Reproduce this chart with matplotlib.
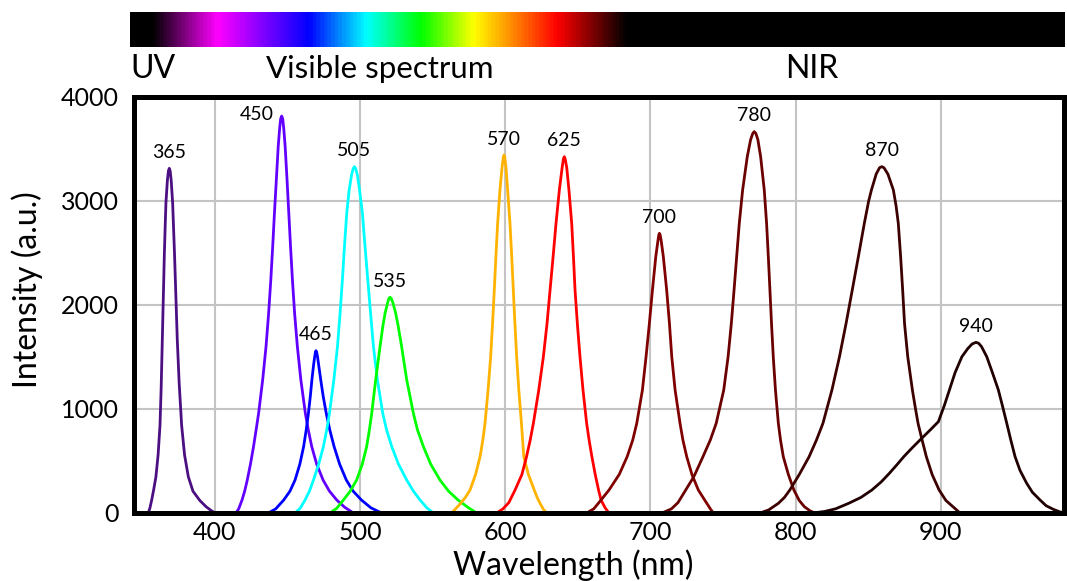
import matplotlib.pyplot as plt
import numpy as np
from matplotlib.colors import LinearSegmentedColormap

plt.rcParams['font.family'] = ['Lato', 'DejaVu Sans']

# LED spectra (wavelength in nm, intensity in a.u.)
x365 = [354.2, 355.3, 356.5, 357.9, 359.5, 361.0, 362.3, 363.1, 363.9, 364.6, 365.3, 365.9, 366.4, 367.4, 368.1, 368.7,
        369.3, 370.0, 371.0, 372.3, 373.2, 374.2, 375.5, 377.2, 379.2, 381.8, 385.0, 389.8, 394.0, 397.4, 400.2]
y365 = [0, 45, 119, 220, 349, 560, 843, 1200, 1667, 2080, 2490, 2770, 2984, 3200, 3290, 3314,
        3290, 3200, 2984, 2490, 2100, 1667, 1250, 843, 560, 349, 210, 119, 61, 25, 0]

x450 = [414.6, 416.5, 418.8, 420.6, 422.4, 424.6, 426.7, 428.5, 430.2, 433.0, 435.3, 437.1, 438.6, 439.9, 441.1, 442.4,
        443.7, 444.7, 445.4, 446.1, 446.8, 447.5, 448.5, 449.8, 451.0, 452.2, 453.5, 455.0, 456.9, 459.3, 462.4,
        464.4, 466.8, 470.2, 474.6, 479.0, 484.0, 489.5, 495.5]
y450 = [0, 40, 125, 210, 317, 470, 638, 800, 958, 1280, 1599, 1920, 2240, 2560, 2881, 3200,
        3522, 3700, 3790, 3817, 3790, 3700, 3522, 3200, 2881, 2560, 2240, 1920, 1599, 1280, 958,
        800, 638, 470, 317, 210, 125, 55, 0]

x465 = [436.9, 442.0, 447.5, 451.8, 455.3, 458.6, 461.2, 463.0, 464.5, 465.8, 466.9, 467.7, 468.2, 468.8, 469.3, 469.7,
        470.2, 470.8, 471.4, 472.0, 473.0, 474.7, 476.8, 479.2, 482.2, 486.0, 490.6, 495.3, 501.0, 507.5, 514.9]
y465 = [0, 40, 125, 210, 317, 470, 638, 800, 958, 1120, 1279, 1380, 1439, 1500, 1545, 1561,
        1545, 1500, 1439, 1380, 1279, 1120, 958, 800, 638, 470, 317, 210, 125, 50, 0]

x505 = [455.3, 458.8, 462.2, 465.2, 468.0, 471.6, 474.8, 477.1, 479.0, 482.0, 484.5, 486.3, 487.9, 489.3, 490.9, 492.5,
        494.2, 495.3, 496.2, 497.1, 498.2, 499.5, 501.7, 503.5, 505.4, 507.3, 509.3, 512.0, 515.7, 518.3, 521.9,
        526.5, 532.2, 536.8, 541.4, 546.0, 550.6]
y505 = [0, 45, 125, 210, 317, 470, 638, 800, 958, 1280, 1599, 1920, 2240, 2560, 2881, 3100,
        3250, 3310, 3330, 3310, 3250, 3130, 2881, 2560, 2240, 1920, 1599, 1280, 958, 800, 638,
        470, 317, 210, 125, 50, 0]

x535 = [479.4, 484.0, 488.6, 493.3, 497.7, 501.6, 504.6, 506.5, 508.1, 510.8, 513.8, 515.8, 517.3, 519.0, 520.0, 520.7,
        521.5, 522.7, 524.6, 526.3, 528.7, 532.2, 536.8, 539.6, 543.7, 548.7, 555.1, 561.0, 567.5, 574.8, 580.4]
y535 = [0, 45, 125, 210, 317, 470, 638, 800, 958, 1279, 1599, 1800, 1920, 2020, 2065, 2074,
        2065, 2020, 1920, 1800, 1599, 1279, 958, 800, 638, 470, 317, 210, 125, 50, 0]

x570 = [563.1, 565.5, 569.3, 572.6, 575.8, 579.6, 582.7, 584.6, 586.1, 588.2, 590.0, 591.3, 592.5, 593.6, 594.8, 596.4,
        597.9, 598.7, 599.2, 599.7, 600.5, 601.7, 603.3, 604.5, 605.6, 606.7, 607.9, 609.4, 611.2, 612.8, 616.0,
        620.0, 622.0, 624.0, 626.3, 628.6]
y570 = [0, 35, 93, 150, 221, 370, 542, 700, 862, 1180, 1503, 1820, 2144, 2465, 2785, 3106,
        3330, 3420, 3442, 3420, 3330, 3106, 2785, 2465, 2144, 1820, 1503, 1180, 862, 542, 370,
        221, 150, 93, 35, 0]

x625 = [594.1, 598.5, 602.5, 606.8, 611.5, 614.7, 617.2, 619.4, 623.1, 626.3, 628.8, 630.9, 633.0, 635.0, 637.3, 639.2,
        640.1, 640.7, 641.3, 642.4, 643.9, 645.8, 647.0, 648.1, 649.7, 651.5, 653.6, 656.1, 657.8, 659.7, 662.0,
        664.3, 666.0, 668.8, 671.5]
y625 = [0, 40, 100, 221, 370, 542, 700, 862, 1180, 1503, 1820, 2144, 2465, 2785, 3106, 3320,
        3405, 3426, 3405, 3320, 3106, 2785, 2465, 2144, 1820, 1503, 1180, 862, 700, 542, 370,
        221, 125, 50, 0]

x700 = [656.1, 661.0, 666.0, 671.5, 678.5, 684.0, 687.8, 690.6, 694.5, 697.0, 699.3, 701.4, 703.7, 705.2, 705.8, 706.2,
        706.7, 707.4, 708.9, 711.2, 713.1, 714.7, 717.0, 720.4, 722.4, 725.0, 728.6, 733.0, 738.5, 741.5, 743.4]
y700 = [0, 40, 125, 221, 370, 542, 700, 862, 1183, 1503, 1824, 2144, 2465, 2620, 2675, 2689,
        2675, 2620, 2465, 2144, 1824, 1503, 1183, 862, 700, 542, 370, 221, 100, 35, 0]

x780 = [708.0, 714.5, 719.0, 724.3, 729.2, 730.6, 736.2, 741.2, 745.3, 750.5, 753.5, 755.7, 757.6, 759.4, 761.2, 763.5,
        766.7, 769.0, 770.5, 771.5, 772.6, 774.0, 775.9, 778.4, 780.0, 781.2, 782.3, 783.4, 784.6, 786.1, 788.1,
        789.6, 791.5, 795.0, 798.8, 802.5, 806.0, 810.0, 813.3]
y780 = [0, 40, 100, 221, 333, 370, 542, 700, 862, 1183, 1503, 1820, 2144, 2465, 2785, 3106,
        3426, 3590, 3650, 3667, 3650, 3590, 3426, 3106, 2785, 2465, 2144, 1820, 1503, 1183, 862,
        700, 542, 370, 221, 120, 61, 20, 0]

x870 = [775.5, 781.5, 788.1, 792.3, 796.0, 802.5, 809.3, 814.3, 818.8, 825.0, 830.2, 834.7, 839.0, 843.2, 847.3, 850.3,
        852.2, 855.5, 857.8, 859.3, 860.8, 863.5, 867.3, 869.2, 870.7, 872.3, 873.7, 875.0, 877.2, 880.4, 882.6,
        884.3, 886.8, 890.0, 894.0, 898.8, 903.5, 908.3, 913.2]
y870 = [0, 30, 93, 150, 221, 370, 542, 700, 862, 1183, 1503, 1820, 2144, 2465, 2785, 3000,
        3106, 3260, 3320, 3330, 3320, 3260, 3106, 2950, 2785, 2465, 2144, 1820, 1503, 1183, 997,
        862, 718, 542, 370, 221, 120, 61, 0]

x940 = [812.0, 820.0, 827.5, 836.5, 845.0, 852.5, 859.0, 864.5, 869.5, 874.5, 880.5, 886.8, 892.8, 898.3, 902.3, 905.9,
        909.8, 914.5, 918.5, 921.5, 924.2, 926.0, 928.0, 931.6, 935.5, 939.6, 942.6, 945.4, 948.2, 951.1, 954.5,
        959.1, 963.0, 968.3, 972.5, 977.5, 982.0, 986.9]
y940 = [0, 15, 40, 93, 150, 221, 300, 381, 460, 542, 630, 718, 800, 878, 1030, 1183,
        1350, 1503, 1580, 1625, 1641, 1632, 1600, 1503, 1350, 1183, 1020, 862, 700, 542, 410,
        286, 200, 125, 70, 35, 10, 0]

labels = ['365', '450', '465', '505', '535', '570', '625', '700', '780', '870', '940']
colors = ['#4b0f82', '#6200ff', '#0000ff', '#00ffff', '#00ff00', '#ffb300',
          '#ff0000', '#800000', '#6a0000', '#3d0000', '#200000']

# colour strip stops (nm) for the spectrum bar on top
bar_nm = [341.6, 356, 400.7, 464, 503.8, 541.6, 578, 635.7, 683.8, 985.6]
bar_colors = ['#000000', '#000000', '#ff00ff', '#0000ff', '#00ffff', '#00ff00',
              '#ffff00', '#ff0000', '#000000', '#000000']

series = [(x365, y365), (x450, y450), (x465, y465), (x505, y505), (x535, y535),
          (x570, y570), (x625, y625), (x700, y700), (x780, y780), (x870, y870),
          (x940, y940)]

W, H = 1067, 581
fig = plt.figure(figsize=(W / 100, H / 100), dpi=100)

# spectrum bar
bax = fig.add_axes([130 / W, 1 - 47 / H, 935 / W, 35.3 / H])
stops = [(v - bar_nm[0]) / (bar_nm[-1] - bar_nm[0]) for v in bar_nm]
cmap = LinearSegmentedColormap.from_list('spec', list(zip(stops, bar_colors)))
grad = np.linspace(bar_nm[0], bar_nm[-1], 1200)[None, :]
bax.imshow(grad, aspect='auto', cmap=cmap, vmin=bar_nm[0], vmax=bar_nm[-1],
           extent=[bar_nm[0], bar_nm[-1], 0, 1])
bax.axis('off')

fig.text(130 / W, 1 - 69 / H, 'UV', fontsize=23, ha='left', va='center')
fig.text(379.5 / W, 1 - 69 / H, 'Visible spectrum', fontsize=22.5, ha='center', va='center')
fig.text(812 / W, 1 - 69 / H, 'NIR', fontsize=23, ha='center', va='center')

# main plot
ax = fig.add_axes([134 / W, 1 - 513 / H, 930 / W, 416 / H])
for (xs, ys), c, lab in zip(series, colors, labels):
    ax.plot(xs, ys, color=c, lw=2, solid_joinstyle='round')
    i = int(np.argmax(ys))
    off = (-18, 1) if lab == '450' else (0, 11.5)
    ax.annotate(lab, (xs[i], ys[i]), xytext=off, textcoords='offset points',
                ha='center', va='center', fontsize=14)

ax.set_xlim(344.4, 984.8)
ax.set_ylim(0, 4000)
ax.set_xticks([400, 500, 600, 700, 800, 900])
ax.set_yticks([0, 1000, 2000, 3000, 4000])
ax.tick_params(length=0, labelsize=18)
ax.tick_params(axis='x', pad=6)
ax.tick_params(axis='y', pad=11)
ax.grid(color='#c4c4c4', lw=1.5)
ax.set_axisbelow(True)
for s in ax.spines.values():
    s.set_linewidth(3.6)

fig.text(573 / W, 1 - 575 / H, 'Wavelength (nm)', fontsize=23, ha='center', va='baseline')
fig.text(27.5 / W, 1 - 289.5 / H, 'Intensity (a.u.)', fontsize=23, ha='center',
         va='center', rotation=90)

plt.savefig('out.png', dpi=100)
